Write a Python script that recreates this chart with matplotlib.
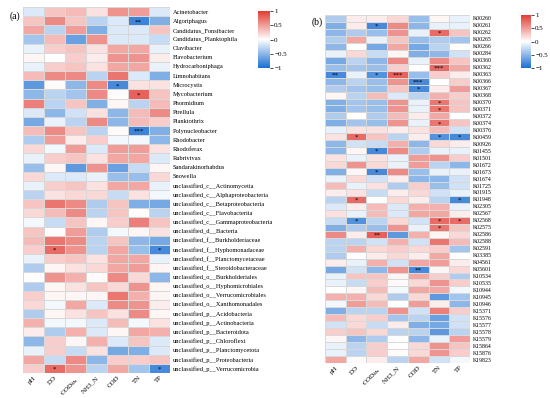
import numpy as np
import matplotlib
matplotlib.use("Agg")
import matplotlib.pyplot as plt
from matplotlib.colors import LinearSegmentedColormap

plt.rcParams['font.family'] = ['Liberation Serif', 'DejaVu Serif']
plt.rcParams['mathtext.fontset'] = 'stix'

# Dati
params = ["pH", "DO", "COD$_{Mn}$", "NH3_N", "COD", "TN", "TP"]

genera = ["Acinetobacter", "Algoriphagus", "Candidatus_Fonsibacter", "Candidatus_Planktophila",
          "Clavibacter", "Flavobacterium", "Hydrocarboniphaga", "Limnohabitans", "Microcystis",
          "Mycobacterium", "Phormidium", "Pirellula", "Planktothrix", "Polynucleobacter",
          "Rhodobacter", "Rhodoferax", "Rubrivivax", "Sandarakinorhabdus", "Snowella",
          "unclassified_c__Actinomycetia", "unclassified_c__Alphaproteobacteria",
          "unclassified_c__Betaproteobacteria", "unclassified_c__Flavobacteriia",
          "unclassified_c__Gammaproteobacteria", "unclassified_d__Bacteria",
          "unclassified_f__Burkholderiaceae", "unclassified_f__Hyphomonadaceae",
          "unclassified_f__Planctomycetaceae", "unclassified_f__Steroidobacteraceae",
          "unclassified_o__Burkholderiales", "unclassified_o__Hyphomicrobiales",
          "unclassified_o__Verrucomicrobiales", "unclassified_o__Xanthomonadales",
          "unclassified_p__Acidobacteria", "unclassified_p__Actinobacteria",
          "unclassified_p__Bacteroidota", "unclassified_p__Chloroflexi",
          "unclassified_p__Planctomycetota", "unclassified_p__Proteobacteria",
          "unclassified_p__Verrucomicrobia"]

genera_r = [
    [-0.15, 0.30, 0.35, 0.15, 0.55, 0.50, -0.15],
    [0.30, 0.60, 0.30, -0.30, -0.15, -0.85, -0.55],
    [0.45, -0.30, 0.50, -0.55, -0.15, -0.15, 0.30],
    [-0.40, 0.35, -0.65, 0.55, -0.15, -0.15, -0.25],
    [-0.10, 0.25, 0.30, 0.15, 0.45, 0.45, -0.10],
    [0.05, 0.00, 0.25, 0.10, 0.55, 0.55, 0.10],
    [-0.10, 0.25, 0.30, 0.15, 0.45, 0.45, -0.10],
    [0.35, 0.60, 0.60, -0.30, 0.70, -0.15, -0.55],
    [-0.70, 0.03, -0.50, 0.60, -0.80, 0.15, 0.15],
    [-0.50, -0.30, -0.40, 0.60, 0.02, 0.80, 0.30],
    [0.65, -0.30, 0.30, -0.55, 0.05, -0.30, 0.35],
    [-0.15, -0.50, -0.20, 0.15, -0.50, 0.35, 0.60],
    [-0.60, -0.10, -0.30, 0.60, -0.50, 0.35, 0.25],
    [0.35, 0.60, 0.30, -0.30, 0.03, -0.85, -0.55],
    [-0.35, 0.50, 0.10, 0.25, -0.05, -0.05, -0.50],
    [0.20, -0.05, 0.50, -0.15, 0.50, 0.50, 0.15],
    [-0.10, 0.25, 0.30, 0.15, 0.45, 0.45, -0.15],
    [-0.45, 0.05, -0.70, 0.55, -0.65, -0.25, 0.05],
    [0.20, -0.15, -0.15, -0.10, -0.45, -0.45, 0.20],
    [-0.10, 0.25, 0.30, 0.15, 0.45, 0.45, -0.10],
    [-0.30, 0.15, 0.20, 0.20, -0.25, 0.15, -0.05],
    [0.30, 0.70, 0.60, -0.35, 0.30, -0.55, -0.60],
    [0.20, 0.35, 0.60, -0.30, 0.30, 0.02, -0.30],
    [-0.05, -0.25, 0.30, 0.05, 0.25, 0.65, 0.30],
    [0.30, 0.02, 0.50, -0.35, -0.05, 0.05, 0.15],
    [0.35, 0.70, 0.60, -0.30, 0.30, -0.50, -0.60],
    [0.25, 0.75, 0.55, -0.30, 0.45, -0.45, -0.80],
    [-0.10, 0.25, 0.30, 0.15, 0.45, 0.45, -0.10],
    [-0.35, 0.05, 0.15, 0.20, 0.45, 0.50, 0.05],
    [0.00, 0.55, 0.40, 0.03, 0.60, 0.20, -0.50],
    [-0.35, 0.05, 0.15, 0.30, 0.20, 0.55, 0.05],
    [0.25, 0.05, 0.05, 0.05, 0.70, 0.40, 0.05],
    [0.20, -0.05, 0.45, -0.15, 0.60, 0.55, 0.10],
    [-0.35, 0.05, 0.15, 0.30, 0.15, 0.60, 0.05],
    [0.40, -0.05, -0.05, -0.15, 0.35, -0.05, 0.15],
    [0.10, -0.35, 0.40, -0.15, 0.05, 0.45, 0.40],
    [-0.50, 0.25, 0.05, 0.40, -0.15, 0.30, -0.15],
    [-0.10, 0.25, -0.25, 0.15, -0.60, -0.55, -0.15],
    [0.45, -0.25, 0.60, -0.50, 0.25, 0.25, 0.30],
    [0.25, 0.75, 0.55, -0.30, 0.45, -0.40, -0.80],
]

genera_sig = [(1, 5, "**"), (8, 4, "*"), (9, 5, "*"), (13, 5, "***"),
              (26, 1, "*"), (26, 6, "*"), (39, 1, "*"), (39, 6, "*")]

kos = ["K00260", "K00261", "K00262", "K00265", "K00266", "K00284", "K00360", "K00362",
       "K00363", "K00366", "K00367", "K00368", "K00370", "K00371", "K00372", "K00374",
       "K00376", "K00459", "K00926", "K01455", "K01501", "K01672", "K01673", "K01674",
       "K01725", "K01915", "K01948", "K02305", "K02567", "K02568", "K02575", "K02586",
       "K02588", "K02591", "K03385", "K04561", "K05601", "K10534", "K10535", "K10944",
       "K10945", "K10946", "K15371", "K15576", "K15577", "K15578", "K15579", "K15864",
       "K15876", "K19823"]

kos_r = [
    [-0.35, 0.10, 0.10, 0.20, -0.45, 0.05, -0.10],
    [-0.55, 0.10, -0.80, 0.60, -0.50, -0.10, -0.10],
    [-0.50, -0.35, -0.45, 0.55, -0.10, 0.75, 0.30],
    [-0.35, 0.45, -0.10, 0.30, -0.45, -0.35, -0.40],
    [-0.50, 0.00, -0.60, 0.45, -0.60, -0.30, 0.00],
    [-0.10, 0.20, -0.25, 0.05, -0.55, -0.50, -0.20],
    [-0.60, -0.30, -0.50, 0.60, -0.10, 0.60, 0.30],
    [-0.45, -0.40, -0.45, 0.25, 0.00, 0.75, 0.45],
    [-0.80, -0.10, -0.75, 0.80, -0.45, 0.25, 0.10],
    [-0.50, -0.30, -0.45, 0.55, -0.80, 0.00, 0.25],
    [-0.35, -0.40, -0.45, 0.30, -0.80, 0.10, 0.50],
    [0.05, -0.30, 0.35, -0.15, -0.30, 0.40, 0.25],
    [-0.55, -0.40, -0.45, 0.55, -0.10, 0.70, 0.30],
    [-0.55, -0.40, -0.45, 0.55, -0.10, 0.70, 0.30],
    [-0.35, 0.00, -0.35, 0.35, 0.10, 0.45, 0.00],
    [-0.55, -0.40, -0.45, 0.55, -0.10, 0.70, 0.30],
    [-0.10, 0.15, 0.15, 0.10, 0.15, 0.35, -0.20],
    [0.15, 0.75, 0.30, -0.30, 0.10, -0.75, -0.80],
    [-0.50, -0.20, -0.25, 0.40, -0.50, 0.20, 0.10],
    [-0.50, 0.05, -0.80, 0.60, -0.35, -0.10, -0.10],
    [0.15, -0.10, 0.15, -0.10, 0.50, 0.55, 0.25],
    [0.20, 0.55, 0.20, -0.10, 0.50, -0.30, -0.50],
    [-0.55, 0.05, -0.80, 0.60, -0.45, -0.10, -0.10],
    [-0.10, 0.20, -0.20, 0.10, -0.50, -0.50, -0.20],
    [0.35, -0.10, 0.15, -0.35, 0.25, -0.45, -0.20],
    [0.10, 0.15, -0.25, 0.10, 0.20, -0.20, -0.10],
    [-0.30, 0.75, 0.00, 0.20, 0.10, -0.30, -0.80],
    [-0.15, 0.10, 0.35, -0.15, 0.40, 0.40, -0.10],
    [0.15, -0.10, 0.35, -0.15, 0.45, 0.45, 0.10],
    [-0.25, -0.75, -0.30, 0.20, -0.20, 0.75, 0.75],
    [-0.55, -0.35, -0.45, 0.55, -0.10, 0.70, 0.30],
    [0.60, 0.10, 0.80, -0.70, 0.40, 0.05, 0.20],
    [-0.30, -0.30, -0.20, 0.40, -0.20, 0.70, 0.35],
    [-0.30, 0.40, 0.20, 0.25, 0.20, 0.25, -0.40],
    [-0.35, 0.00, 0.10, 0.20, 0.10, 0.45, 0.00],
    [0.10, -0.10, 0.40, -0.20, 0.45, 0.50, 0.10],
    [-0.60, -0.20, -0.50, 0.55, -0.80, 0.05, 0.20],
    [-0.10, 0.30, 0.30, 0.05, 0.45, 0.25, -0.35],
    [-0.10, -0.25, 0.25, 0.03, 0.20, 0.55, 0.25],
    [0.00, 0.05, 0.35, -0.05, 0.45, 0.45, -0.05],
    [0.40, 0.40, 0.20, -0.35, 0.20, -0.70, -0.40],
    [-0.05, 0.50, 0.35, 0.00, 0.50, 0.10, -0.50],
    [-0.55, -0.30, -0.30, 0.55, -0.20, 0.65, 0.25],
    [0.35, 0.20, 0.25, -0.40, -0.30, -0.65, -0.20],
    [-0.20, 0.20, -0.25, 0.10, -0.55, -0.60, -0.20],
    [0.25, 0.30, 0.20, -0.30, -0.30, -0.70, -0.30],
    [0.05, -0.50, -0.35, 0.00, -0.50, -0.10, 0.50],
    [-0.10, -0.30, 0.25, 0.00, 0.20, 0.55, 0.30],
    [-0.10, -0.30, 0.25, 0.02, 0.20, 0.55, 0.25],
    [0.45, 0.03, 0.10, -0.30, 0.45, -0.20, -0.05],
]

kos_sig = [(1, 2, "*"), (2, 5, "*"), (7, 5, "***"), (8, 0, "**"), (8, 2, "*"), (8, 3, "***"),
           (9, 4, "***"), (10, 4, "*"), (12, 5, "*"), (13, 5, "*"), (15, 5, "*"),
           (17, 1, "*"), (17, 5, "*"), (17, 6, "*"), (19, 2, "*"), (22, 2, "*"),
           (26, 1, "*"), (26, 6, "*"), (29, 1, "*"), (29, 5, "*"), (29, 6, "*"),
           (30, 5, "*"), (31, 2, "**"), (36, 4, "**")]

cmap = LinearSegmentedColormap.from_list("rb", ["#1a6ed2", "#ffffff", "#e23c33"])


def heat(ax, cax, vals, rows, sig, fs_row):
    m = np.array(vals)
    qm = ax.pcolormesh(m, cmap=cmap, vmin=-1, vmax=1, edgecolors="#d8d8d8", linewidth=0.5)
    ax.set_xlim(0, m.shape[1])
    ax.set_ylim(m.shape[0], 0)
    ax.set_xticks(np.arange(m.shape[1]) + 0.5)
    ax.set_xticklabels(params, rotation=45, ha="right", rotation_mode="anchor", fontsize=5)
    ax.set_yticks(np.arange(m.shape[0]) + 0.5)
    ax.set_yticklabels(rows, fontsize=fs_row)
    ax.yaxis.tick_right()
    ax.tick_params(axis="y", length=0, pad=2)
    ax.tick_params(axis="x", length=0, pad=1.5)
    for s in ax.spines.values():
        s.set_visible(False)
    for r, c, t in sig:
        ax.text(c + 0.5, r + 0.62, t, ha="center", va="center", fontsize=5, color="black")
    cb = plt.colorbar(qm, cax=cax, ticks=[1, 0.5, 0, -0.5, -1])
    cb.ax.set_yticklabels(["1", "0.5", "0", "\u22120.5", "\u22121"])
    cb.ax.tick_params(labelsize=5, length=2, width=0.5, pad=1)
    cb.outline.set_visible(False)


fig = plt.figure(figsize=(5.5, 3.98), dpi=100)
ax_a = fig.add_axes([23 / 550, 1 - 373 / 398, 147 / 550, 366 / 398])
cax_a = fig.add_axes([258 / 550, 1 - 68 / 398, 12 / 550, 57 / 398])
ax_b = fig.add_axes([325 / 550, 1 - 363 / 398, 145 / 550, 348 / 398])
cax_b = fig.add_axes([521 / 550, 1 - 68 / 398, 10 / 550, 53 / 398])

heat(ax_a, cax_a, genera_r, genera, genera_sig, 4.6)
heat(ax_b, cax_b, kos_r, kos, kos_sig, 4.2)

fig.text(10 / 550, 1 - 16 / 398, "(a)", fontsize=7, va="center")
fig.text(312 / 550, 1 - 22 / 398, "(b)", fontsize=7, va="center")

fig.savefig("out.png", dpi=100)
